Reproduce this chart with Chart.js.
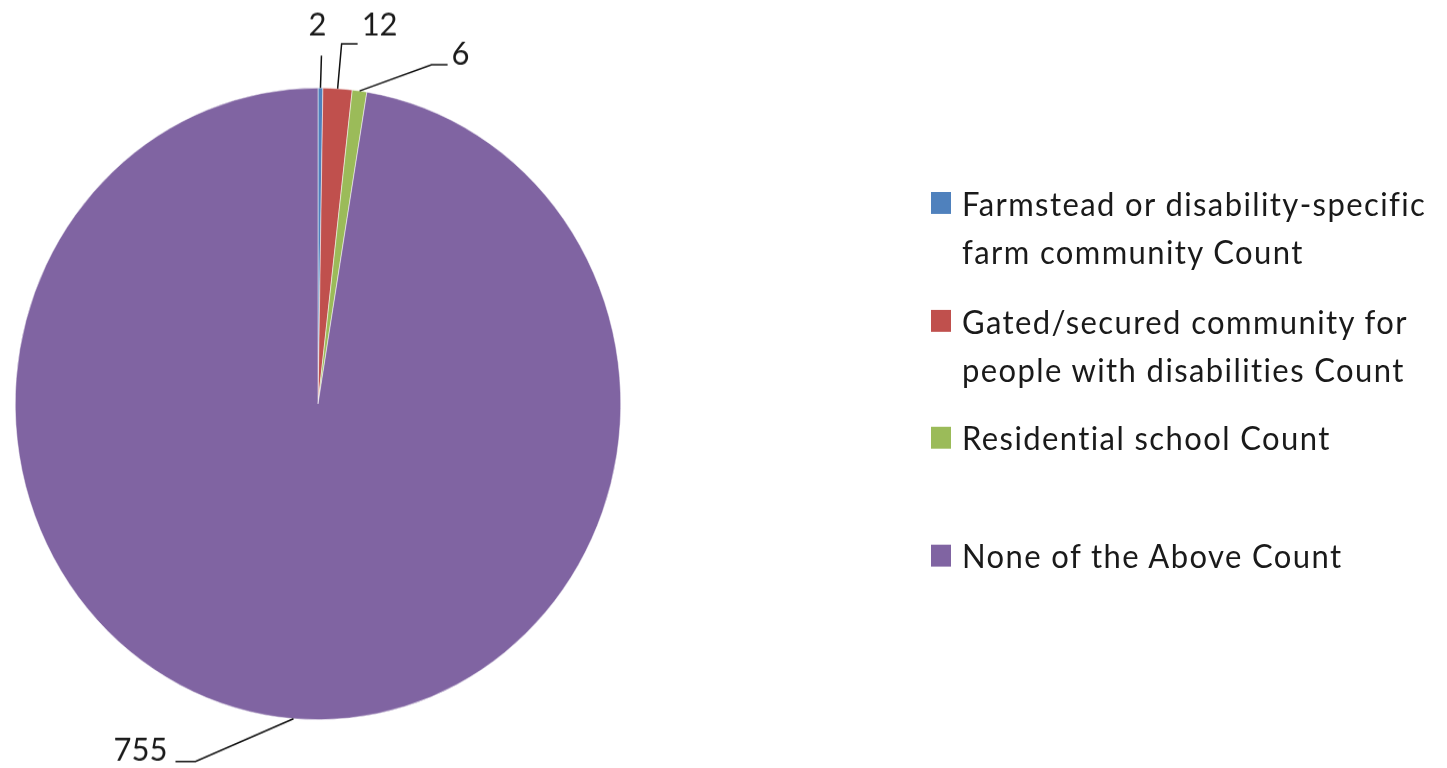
<!DOCTYPE html>
<html>
<head>
<meta charset="utf-8">
<script src="https://cdn.jsdelivr.net/npm/chart.js@4.4.1/dist/chart.umd.min.js"></script>
<style>
  html, body { margin: 0; padding: 0; background: #ffffff; overflow: hidden; }
  #stage { position: absolute; left: 0; top: 0; width: 1447px; height: 736px;
           transform: scaleY(1.04348); transform-origin: 0 0; }
  #chartBox { position: absolute; left: 0; top: 0; width: 1447px; height: 736px; }
  #legend { position: absolute; left: 0; top: 0; width: 1447px; height: 736px;
            font-family: Lato, "Open Sans", sans-serif; font-size: 31px; color: #1a1a1a;
            letter-spacing: 1.4px; font-variant-ligatures: none; }
  .item { position: absolute; left: 931px; }
  .sw { position: absolute; left: 0; width: 20px; height: 21px; }
  .tx { position: absolute; left: 31px; width: 505px; line-height: 46px; white-space: normal; }
</style>
</head>
<body>
<div id="stage">
  <div id="chartBox"><canvas id="c" width="1447" height="736"></canvas></div>
  <div id="legend"></div>
</div>
<script>
// ---- data ----
const categories = [
  "Farmstead or disability-specific farm community Count",
  "Gated/secured community for people with disabilities Count",
  "Residential school Count",
  "None of the Above Count"
];
const counts = [2, 12, 6, 755];
const sliceColors = ["#4F81BD", "#C0504D", "#9BBB59", "#8064A2"];

// ---- presentation (label placement relative to slice anchor, legend rows) ----
const labelLayout = [
  { path: [[1, -31]], text: [-3, -60], align: "center" },
  { path: [[4, -43], [20, -43]], text: [42, -61], align: "center" },
  { path: [[72, -25], [88, -25]], text: [101, -35], align: "center" },
  { path: [[-98, 41], [-118, 41]], text: [-153, 30], align: "center" }
];
const legendRowCenters = [194.6, 307.8, 419, 532.1];

const leaderPlugin = {
  id: "leaders",
  afterDatasetsDraw(chart) {
    const ctx = chart.ctx;
    const meta = chart.getDatasetMeta(0);
    ctx.save();
    ctx.strokeStyle = "#111111";
    ctx.lineWidth = 1.5;
    ctx.fillStyle = "#1a1a1a";
    ctx.font = "31px Lato, 'Open Sans', sans-serif";
    ctx.textBaseline = "middle";
    meta.data.forEach((arc, i) => {
      const mid = (arc.startAngle + arc.endAngle) / 2;
      const ax = arc.x + Math.cos(mid) * arc.outerRadius;
      const ay = arc.y + Math.sin(mid) * arc.outerRadius;
      const L = labelLayout[i];
      ctx.beginPath();
      ctx.moveTo(ax, ay);
      L.path.forEach(p => ctx.lineTo(ax + p[0], ay + p[1]));
      ctx.stroke();
      ctx.textAlign = L.align;
      ctx.fillText(String(counts[i]), ax + L.text[0], ay + L.text[1]);
    });
    ctx.restore();
  }
};

new Chart(document.getElementById("c"), {
  type: "pie",
  data: {
    labels: categories,
    datasets: [{
      data: counts,
      backgroundColor: sliceColors,
      borderColor: "#ffffff",
      borderWidth: 0.5
    }]
  },
  options: {
    responsive: false,
    animation: false,
    layout: { padding: { left: 15, right: 826, top: 84, bottom: 46 } },
    plugins: { legend: { display: false }, tooltip: { enabled: false } }
  },
  plugins: [leaderPlugin]
});

// ---- HTML legend ----
const lg = document.getElementById("legend");
categories.forEach((name, i) => {
  const item = document.createElement("div");
  item.className = "item";
  item.style.top = (legendRowCenters[i] - 23) + "px";
  const sw = document.createElement("div");
  sw.className = "sw";
  sw.style.background = sliceColors[i];
  sw.style.top = "12.5px";
  const tx = document.createElement("div");
  tx.className = "tx";
  tx.textContent = name;
  item.appendChild(sw);
  item.appendChild(tx);
  lg.appendChild(item);
});
</script>
</body>
</html>
